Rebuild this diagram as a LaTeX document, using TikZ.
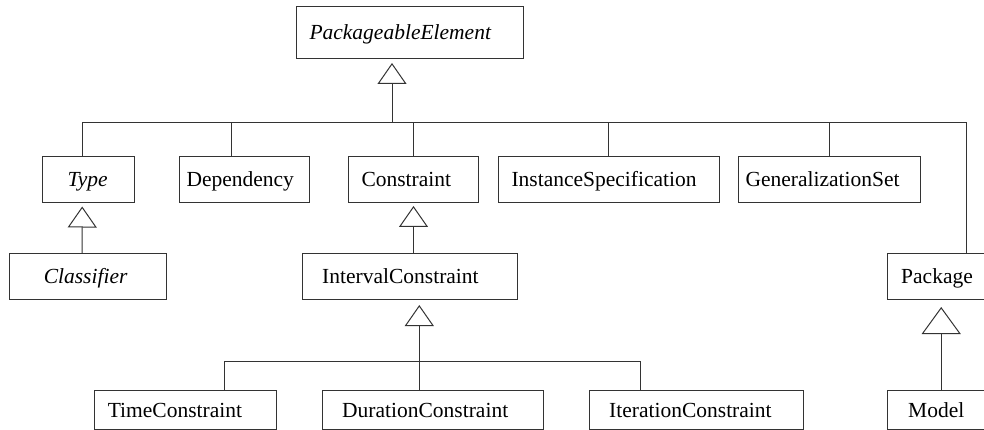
\documentclass[tikz,border=0pt]{standalone}
\usepackage{fontspec}
\setmainfont{Liberation Serif}
\usetikzlibrary{arrows.meta}

% one class box: name, left, top, width, height, inner padding, label
\newcommand{\umlcls}[7]{%
  \node[cls, anchor=north west, inner xsep=#6pt, text width={#4pt-2*#6pt},
        minimum height=#5pt] (#1) at (#2,#3) {#7};}

\begin{document}
\begin{tikzpicture}[x=1pt, y=-1pt,
  cls/.style={draw=black!80, line width=1pt, rectangle, inner ysep=0pt,
              align=left, text height=17pt, text depth=2.5pt,
              font=\fontsize{21.5}{25}\selectfont},
  link/.style={draw=black!80, line width=1pt},
  gen/.style={link, -{Triangle[open, width=29pt, length=21pt]}},
  biggen/.style={link, -{Triangle[open, width=39pt, length=27pt]}}]
\useasboundingbox (0,0) rectangle (984,430);

% classes
\umlcls{pe}{296}{6}{227}{52}{13}{\itshape PackageableElement}
\umlcls{type}{42}{156}{92}{46}{25}{\itshape Type}
\umlcls{dep}{179}{156}{130}{46}{7}{Dependency}
\umlcls{con}{348}{156}{130}{46}{13}{Constraint}
\umlcls{inst}{497.5}{156}{221}{46}{13.5}{InstanceSpecification}
\umlcls{gen}{738}{156}{182}{46}{7}{GeneralizationSet}
\umlcls{clsf}{9.3}{253}{156.7}{46}{34}{\itshape Classifier}
\umlcls{ic}{302.3}{253}{215}{46}{19.4}{IntervalConstraint}
\umlcls{pkg}{887.3}{253}{110}{46}{13.4}{Package}
\umlcls{tc}{94.3}{390}{182}{38.5}{13}{TimeConstraint}
\umlcls{dc}{321.7}{390}{221.3}{38.5}{20}{DurationConstraint}
\umlcls{itc}{588.7}{390}{214.3}{38.5}{20}{IterationConstraint}
\umlcls{mdl}{887.3}{390}{110}{38.5}{20.4}{Model}

% generalization tree under PackageableElement
\coordinate (peBus) at (392,123);
\draw[gen, shorten >=4pt] (peBus) -- (peBus |- pe.south);
\draw[link] ([xshift=-6.3pt]type.north) |- (peBus);
\draw[link] ([xshift=-13pt]dep.north) |- (peBus);
\draw[link] (con.north) |- (peBus);
\draw[link] (inst.north) |- (peBus);
\draw[link] (gen.north) |- (peBus);
\draw[link] ([xshift=23.4pt]pkg.north) |- (peBus);

% Classifier specializes Type
\draw[gen, shorten >=3.5pt] ([xshift=-6pt]clsf.north) -- ([xshift=-6.3pt]type.south);

% IntervalConstraint specializes Constraint
\draw[gen, shorten >=3pt] ([xshift=3.2pt]ic.north) -- (con.south);

% generalization tree under IntervalConstraint
\coordinate (icBus) at (419.3,361.7);
\draw[gen, shorten >=5pt] (icBus) -- (icBus |- ic.south);
\draw[link] ([xshift=39pt]tc.north) |- (icBus);
\draw[link] ([xshift=-13pt]dc.north) |- (icBus);
\draw[link] ([xshift=-55.6pt]itc.north) |- (icBus);

% Model specializes Package
\draw[biggen, shorten >=7pt] ([xshift=-1.6pt]mdl.north) -- ([xshift=-1.6pt]mdl.north |- pkg.south);
\end{tikzpicture}
\end{document}
